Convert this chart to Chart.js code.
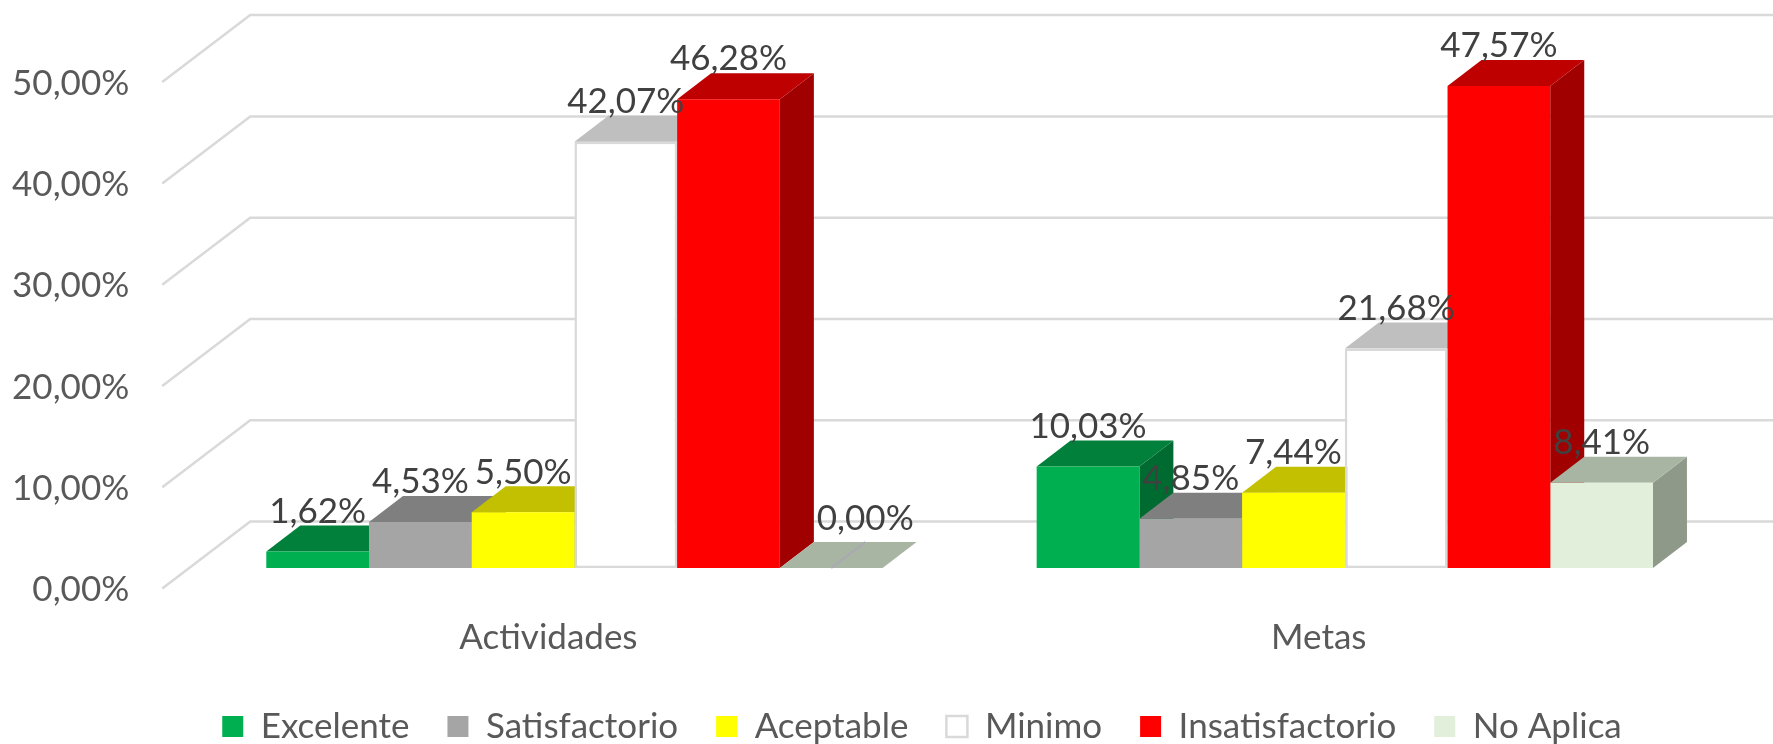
<!DOCTYPE html>
<html lang="es">
<head>
<meta charset="utf-8">
<title>Actividades y Metas</title>
<script src="https://cdn.jsdelivr.net/npm/chart.js@4/dist/chart.umd.min.js"></script>
<style>
  html, body { margin: 0; padding: 0; background: #fff; }
  canvas { display: block; }
</style>
</head>
<body>
<canvas id="chart" width="1773" height="744"></canvas>
<script>
  const categories = ['Actividades', 'Metas'];
  const seriesNames = ['Excelente', 'Satisfactorio', 'Aceptable', 'Minimo', 'Insatisfactorio', 'No Aplica'];

  const excelente = [1.62, 10.03];
  const satisfactorio = [4.53, 4.85];
  const aceptable = [5.50, 7.44];
  const minimo = [42.07, 21.68];
  const insatisfactorio = [46.28, 47.57];
  const noAplica = [0.00, 8.41];

  const FRONT_COLORS = ['#00b050', '#a5a5a5', '#ffff00', '#ffffff', '#ff0000', '#e2efda'];
  const TOP_COLORS = ['#00803a', '#7f7f7f', '#c2c000', '#bfbfbf', '#bf0000', '#a9b5a3'];
  const SIDE_COLORS = ['#006b30', '#6e6e6e', '#a0a000', '#a0a0a0', '#a00000', '#8e998a'];

  const FONT = 'Lato, "Open Sans", sans-serif';
  const GRID_COLOR = '#d9d9d9';
  const AXIS_TEXT = '#595959';
  const LABEL_TEXT = '#404040';

  // oblique offsets of the fake 3D box, in px
  const BAR_DEPTH = { x: 34, y: 26 };
  const WALL_BACK = { x: 61, y: -46.4 };
  const WALL_FRONT = { x: -27, y: 20.6 };
  const LEGEND_SHIFT = { x: 57, y: 14 };

  function pct(value) {
    return value.toFixed(2).replace('.', ',') + '%';
  }

  function polygon(ctx, color, points) {
    ctx.fillStyle = color;
    ctx.beginPath();
    points.forEach(([x, y], i) => (i ? ctx.lineTo(x, y) : ctx.moveTo(x, y)));
    ctx.closePath();
    ctx.fill();
  }

  function drawWall(chart) {
    const { ctx, scales: { x, y } } = chart;
    ctx.strokeStyle = GRID_COLOR;
    ctx.lineWidth = 2.5;
    y.ticks.forEach((tick) => {
      const py = y.getPixelForValue(tick.value);
      ctx.beginPath();
      ctx.moveTo(x.left + WALL_FRONT.x, py + WALL_FRONT.y);
      ctx.lineTo(x.left + WALL_BACK.x, py + WALL_BACK.y);
      ctx.lineTo(chart.width, py + WALL_BACK.y);
      ctx.stroke();
    });
  }

  // left to right, so a bar's top lands over its left neighbour's side
  function drawBoxFaces(chart) {
    const { ctx } = chart;
    const d = BAR_DEPTH;
    chart.data.datasets.forEach((ds, i) => {
      chart.getDatasetMeta(i).data.forEach((bar, n) => {
        const { x, y, base, width } = bar.getProps(['x', 'y', 'base', 'width'], true);
        const l = x - width / 2;
        const r = x + width / 2;
        polygon(ctx, SIDE_COLORS[i], [[r, y], [r + d.x, y - d.y], [r + d.x, base - d.y], [r, base]]);
        polygon(ctx, TOP_COLORS[i], [[l, y], [l + d.x, y - d.y], [r + d.x, y - d.y], [r, y]]);
        if (ds.data[n] === 0) {
          ctx.strokeStyle = '#a9a9b4';
          ctx.lineWidth = 2;
          ctx.beginPath();
          ctx.moveTo(x, y);
          ctx.lineTo(x + d.x, y - d.y);
          ctx.stroke();
        }
      });
    });
  }

  const box3dPlugin = {
    id: 'box3d',
    afterLayout(chart) {
      // the legend sits off centre in the original
      chart.legend.left += LEGEND_SHIFT.x;
      chart.legend.right += LEGEND_SHIFT.x;
      chart.legend.top += LEGEND_SHIFT.y;
      chart.legend.bottom += LEGEND_SHIFT.y;
    },
    beforeDatasetsDraw(chart) {
      chart.ctx.save();
      drawWall(chart);
      drawBoxFaces(chart);
      chart.ctx.restore();
    },
    afterDatasetsDraw(chart) {
      const { ctx } = chart;
      ctx.save();
      ctx.font = '35px ' + FONT;
      ctx.fillStyle = LABEL_TEXT;
      ctx.textAlign = 'center';
      ctx.textBaseline = 'middle';
      chart.data.datasets.forEach((ds, i) => {
        chart.getDatasetMeta(i).data.forEach((bar, n) => {
          const value = ds.data[n];
          // Excel pushes the empty bar's label back onto the floor
          const dx = value === 0 ? BAR_DEPTH.x : 0;
          const dy = value === 0 ? 49 : 40;
          ctx.fillText(pct(value), bar.x + dx, bar.y - dy);
        });
      });
      ctx.restore();
    },
  };

  const seriesValues = [excelente, satisfactorio, aceptable, minimo, insatisfactorio, noAplica];

  new Chart(document.getElementById('chart'), {
    type: 'bar',
    data: {
      labels: categories,
      datasets: seriesNames.map((name, i) => ({
        label: name,
        data: seriesValues[i],
        backgroundColor: FRONT_COLORS[i],
        borderColor: i === 3 ? GRID_COLOR : FRONT_COLORS[i],
        borderWidth: i === 3 ? 2.5 : 0,
        borderSkipped: false,
        categoryPercentage: 0.8,
        barPercentage: 1,
      })),
    },
    options: {
      responsive: false,
      animation: false,
      layout: { padding: { left: 0, right: 43, top: 61.5, bottom: 4 } },
      scales: {
        x: {
          grid: { display: false },
          border: { display: false },
          afterFit(scale) { scale.height = 89; },
          ticks: {
            color: AXIS_TEXT,
            font: { family: FONT, size: 35 },
            labelOffset: -26,
            padding: 41,
            maxRotation: 0,
          },
        },
        y: {
          min: 0,
          max: 50,
          grid: { display: false, drawTicks: false },
          border: { display: false },
          afterFit(scale) {
            scale.width = 189.25;
            scale.paddingTop = 0;
            scale.paddingBottom = 0;
          },
          ticks: {
            stepSize: 10,
            color: AXIS_TEXT,
            font: { family: FONT, size: 35 },
            padding: 60,
            labelOffset: 22,
            callback: (value) => pct(value),
          },
        },
      },
      plugins: {
        tooltip: { enabled: false },
        legend: {
          position: 'bottom',
          onClick: null,
          labels: {
            color: AXIS_TEXT,
            font: { family: FONT, size: 35 },
            boxWidth: 21,
            boxHeight: 21,
            padding: 38,
          },
        },
      },
    },
    plugins: [box3dPlugin],
  });
</script>
</body>
</html>
